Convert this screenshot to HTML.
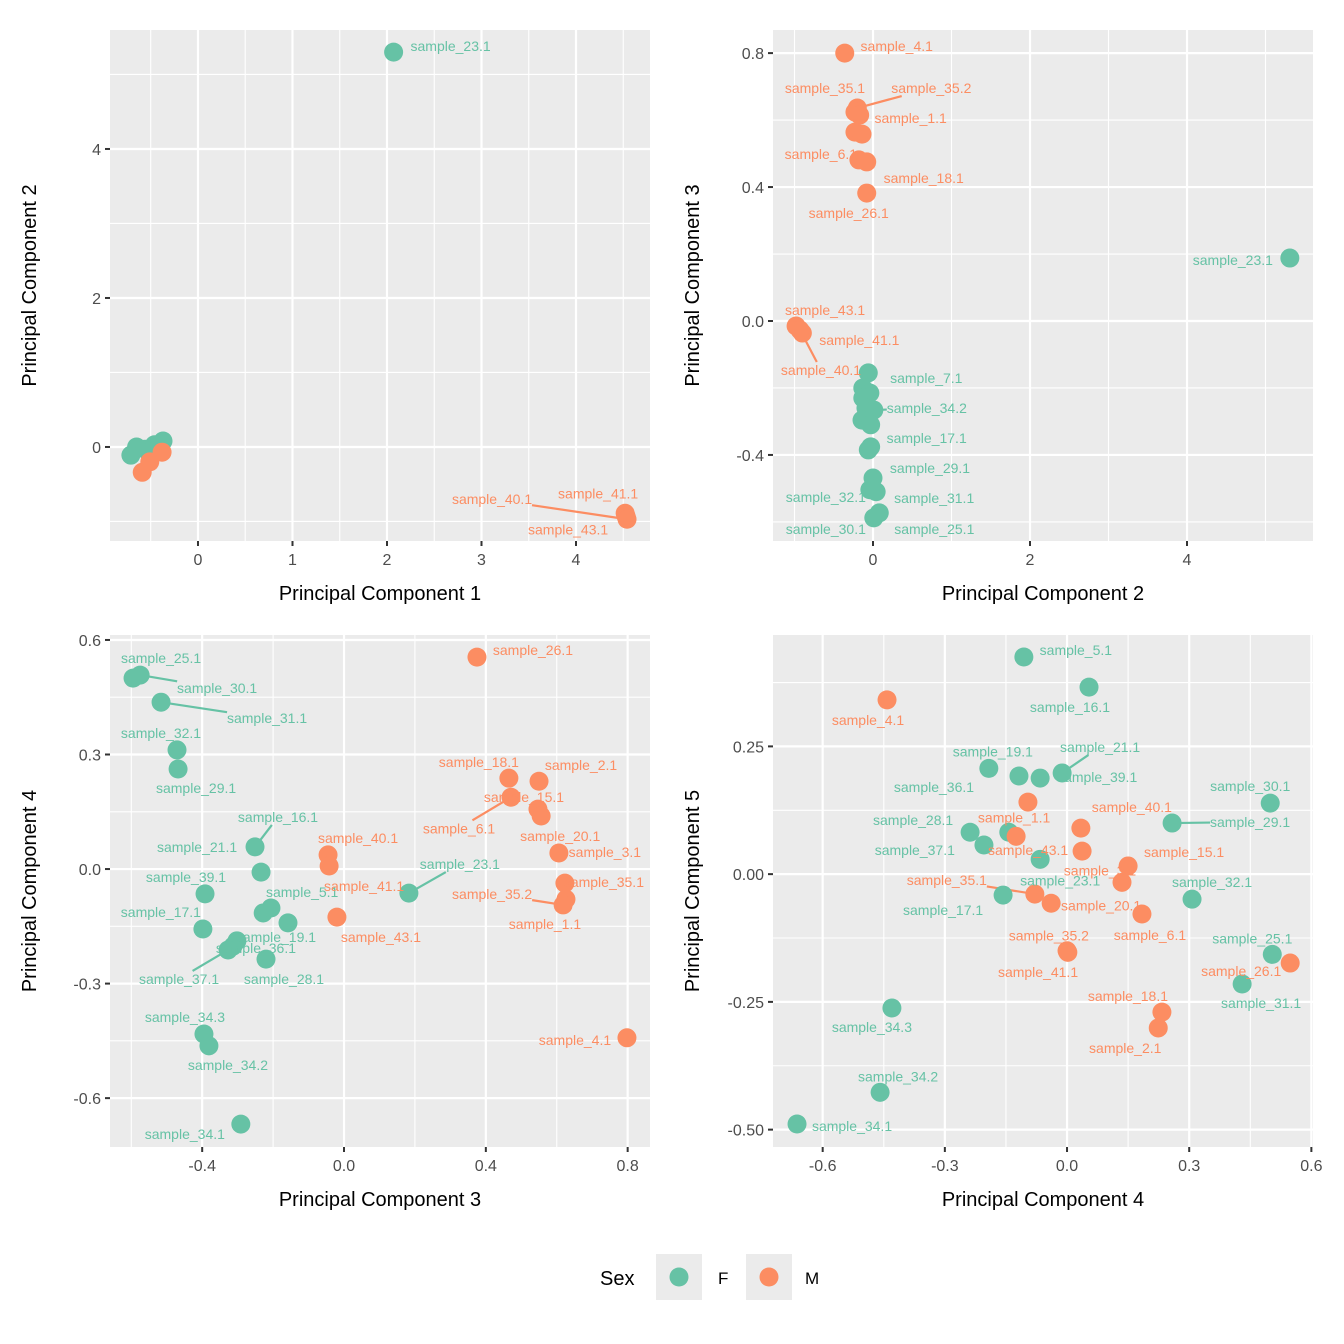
<!DOCTYPE html>
<html><head><meta charset="utf-8">
<style>
html,body{margin:0;padding:0;background:#fff;}
svg{display:block;font-family:"Liberation Sans",Arial,sans-serif;}
</style></head>
<body>
<svg id="chart" width="1344" height="1344" viewBox="0 0 1344 1344" xmlns="http://www.w3.org/2000/svg"></svg>
<script>
// ---------- data ----------
const p1x=[2.07,-0.71,-0.65,-0.56,-0.46,-0.37,-0.51,-0.59,-0.51,-0.38,4.52,4.53,4.54];
const p1y=[5.30,-0.11,0.00,-0.03,0.03,0.08,-0.07,-0.34,-0.20,-0.07,-0.89,-0.93,-0.97];
const p1sex=['F','F','F','F','F','F','F','M','M','M','M','M','M'];
const p1lab=['sample_23.1','','','','','','','','','','sample_41.1','sample_43.1','sample_40.1'];
const p1off=[[57,-6],0,0,0,0,0,0,0,0,0,[-27,-20],[-58,13],[-135,-20,1]];

const p2x=[-0.36,-0.20,-0.23,-0.17,-0.23,-0.14,-0.18,-0.08,-0.08,-0.98,-0.90,-0.93,5.31,-0.06,-0.13,-0.04,-0.13,-0.09,0.01,-0.14,-0.03,-0.06,-0.03,0.00,-0.04,0.04,0.08,0.01];
const p2y=[0.80,0.636,0.624,0.615,0.564,0.558,0.481,0.475,0.382,-0.015,-0.036,-0.027,0.188,-0.155,-0.20,-0.215,-0.23,-0.26,-0.266,-0.296,-0.31,-0.385,-0.376,-0.469,-0.504,-0.51,-0.573,-0.588];
const p2sex=['M','M','M','M','M','M','M','M','M','M','M','M','F','F','F','F','F','F','F','F','F','F','F','F','F','F','F','F'];
const p2lab=['sample_4.1','sample_35.2','sample_35.1','sample_1.1','','','sample_6.1','sample_18.1','sample_26.1','sample_43.1','sample_41.1','sample_40.1','sample_23.1','sample_7.1','','','','','sample_34.2','','sample_17.1','','','sample_29.1','sample_32.1','sample_31.1','sample_25.1','sample_30.1'];
const p2off=[[52,-7],[74,-20,1],[-30,-24],[51,3],0,0,[-38,-6],[57,16],[-18,20],[29,-16],[57,7],[21,40,1],[-57,2],[58,5],0,0,0,0,[53,-2,1],0,[56,13],0,0,[57,-10],[-44,7],[58,6],[55,16],[-48,11]];

const p3x=[-0.595,-0.575,-0.516,-0.471,-0.468,-0.251,-0.234,-0.392,-0.398,-0.228,-0.206,-0.158,-0.302,-0.313,-0.327,-0.22,-0.395,-0.381,-0.291,0.183,0.375,0.465,0.55,0.471,0.547,0.556,0.606,0.623,0.626,0.618,-0.045,-0.042,-0.02,0.798];
const p3y=[0.50,0.508,0.437,0.312,0.262,0.058,-0.008,-0.065,-0.157,-0.115,-0.102,-0.141,-0.188,-0.202,-0.212,-0.236,-0.432,-0.463,-0.668,-0.063,0.555,0.238,0.230,0.188,0.157,0.139,0.042,-0.037,-0.079,-0.094,0.037,0.008,-0.126,-0.442];
const p3sex=['F','F','F','F','F','F','F','F','F','F','F','F','F','F','F','F','F','F','F','F','M','M','M','M','M','M','M','M','M','M','M','M','M','M'];
const p3lab=['sample_25.1','sample_30.1','sample_31.1','sample_32.1','sample_29.1','sample_16.1','sample_21.1','sample_39.1','sample_17.1','sample_5.1','','sample_19.1','sample_36.1','','sample_37.1','sample_28.1','sample_34.3','sample_34.2','sample_34.1','sample_23.1','sample_26.1','sample_18.1','sample_2.1','sample_6.1','sample_15.1','sample_20.1','sample_3.1','sample_35.1','sample_1.1','sample_35.2','sample_40.1','sample_41.1','sample_43.1','sample_4.1'];
const p3off=[[28,-20],[77,13,1],[106,16,1],[-16,-17],[18,19],[23,-30,1],[-64,-25],[-19,-17],[-42,-17],[39,-21],0,[-12,14],[19,7],0,[-49,29,1],[18,20],[-19,-17],[19,19],[-56,10],[51,-29,1],[56,-7],[-30,-16],[42,-16],[-52,31,1],[-14,-12],[19,20],[46,-1],[39,-1],[-21,25],[-71,-11,1],[30,-17],[35,20],[44,20],[-52,2]];

const p4x=[-0.106,0.054,-0.192,-0.118,-0.066,-0.012,0.499,0.258,-0.238,-0.143,-0.204,-0.066,-0.157,0.307,0.504,0.43,-0.43,-0.459,-0.663,-0.442,-0.096,-0.125,0.034,0.037,0.150,0.135,-0.079,-0.039,0.184,0.002,0.0,0.548,0.233,0.224];
const p4y=[0.425,0.366,0.207,0.192,0.188,0.198,0.139,0.100,0.082,0.082,0.057,0.029,-0.041,-0.049,-0.157,-0.215,-0.262,-0.427,-0.489,0.341,0.141,0.074,0.090,0.045,0.016,-0.016,-0.039,-0.057,-0.078,-0.153,-0.150,-0.174,-0.27,-0.301];
const p4sex=['F','F','F','F','F','F','F','F','F','F','F','F','F','F','F','F','F','F','F','M','M','M','M','M','M','M','M','M','M','M','M','M','M','M'];
const p4lab=['sample_5.1','sample_16.1','sample_19.1','sample_36.1','sample_39.1','sample_21.1','sample_30.1','sample_29.1','sample_28.1','sample_37.1','','sample_23.1','sample_17.1','sample_32.1','sample_25.1','sample_31.1','sample_34.3','sample_34.2','sample_34.1','sample_4.1','','sample_1.1','sample_40.1','sample_43.1','sample_15.1','sample_3.1','sample_35.1','sample_20.1','sample_6.1','sample_35.2','sample_41.1','sample_26.1','sample_18.1','sample_2.1'];
const p4off=[[52,-7],[-19,20],[4,-17],[-85,11],[57,-1],[38,-26,1],[-20,-17],[78,-1,1],[-57,-12],[-94,18],0,[20,21],[-60,15],[20,-17],[-20,-16],[19,19],[-20,19],[18,-16],[55,2],[-19,20],0,[-2,-19],[51,-21],[-54,-1],[56,-14],[-22,-12],[-88,-14,1],[50,2],[8,21],[-19,-17],[-29,21],[-49,8],[-34,-16],[-33,20]];

const p1xt=[0,1,2,3,4], p1yt=[0,2,4];
const p2xt=[0,2,4], p2yt=[-0.4,0,0.4,0.8];
const p3xt=[-0.4,0,0.4,0.8], p3yt=[-0.6,-0.3,0,0.3,0.6];
const p4xt=[-0.6,-0.3,0,0.3,0.6], p4yt=[-0.5,-0.25,0,0.25];
const p1xl=['0','1','2','3','4'], p1yl=['0','2','4'];
const p2xl=['0','2','4'], p2yl=['-0.4','0.0','0.4','0.8'];
const p3xl=['-0.4','0.0','0.4','0.8'], p3yl=['-0.6','-0.3','0.0','0.3','0.6'];
const p4xl=['-0.6','-0.3','0.0','0.3','0.6'], p4yl=['-0.50','-0.25','0.00','0.25'];

// ---------- drawing ----------
const NS='http://www.w3.org/2000/svg';
const svg=document.getElementById('chart');
const COL={F:'#66C2A5',M:'#FC8D62'};
function mk(tag,attrs,parent){const e=document.createElementNS(NS,tag);for(const k in attrs)e.setAttribute(k,attrs[k]);(parent||svg).appendChild(e);return e;}

function panel(name,box,xd,yd,xs,ys,sex,lab,off,xt,yt,xl,yl,xtitle,ytitle){
  const [L,T,R,B]=box;
  const sx=v=>L+(v-xd[0])/(xd[1]-xd[0])*(R-L);
  const sy=v=>B-(v-yd[0])/(yd[1]-yd[0])*(B-T);
  const g=mk('g',{});
  
  
  const bg=mk('rect',{x:L,y:T,width:R-L,height:B-T,fill:'#EBEBEB'},g);
  
  
  const dx=xt[1]-xt[0], dy=yt[1]-yt[0];
  for(let v=xt[0]-dx/2; v<=xd[1]; v+=dx){ if(v<xd[0])continue; const x=sx(v);
    const l=mk('line',{x1:x,x2:x,y1:T,y2:B,stroke:'#fff','stroke-width':1.1},g);
     }
  for(let v=yt[0]-dy/2; v<=yd[1]; v+=dy){ if(v<yd[0])continue; const y=sy(v);
    const l=mk('line',{x1:L,x2:R,y1:y,y2:y,stroke:'#fff','stroke-width':1.1},g);
     }
  xt.forEach((v,i)=>{const x=sx(v);
    const l=mk('line',{x1:x,x2:x,y1:T,y2:B,stroke:'#fff','stroke-width':2.2},g);
     
    const t=mk('line',{x1:x,x2:x,y1:B,y2:B+5,stroke:'#333','stroke-width':2},g);
     
    const tx=mk('text',{x:x,y:B+24,'text-anchor':'middle','font-size':16,fill:'#4D4D4D'},g);
    tx.textContent=xl[i];
     });
  yt.forEach((v,i)=>{const y=sy(v);
    const l=mk('line',{x1:L,x2:R,y1:y,y2:y,stroke:'#fff','stroke-width':2.2},g);
     
    const t=mk('line',{x1:L-5,x2:L,y1:y,y2:y,stroke:'#333','stroke-width':2},g);
     
    const tx=mk('text',{x:L-9,y:y+6,'text-anchor':'end','font-size':16,fill:'#4D4D4D'},g);
    tx.textContent=yl[i];
     });
  xs.forEach((v,i)=>{const o=off[i]; if(!o||!o[2])return;
    const px=sx(v),py=sy(ys[i]);
    const k=Math.min(1,Math.max(Math.abs(o[0])>40?(Math.abs(o[0])-40)/Math.abs(o[0]):0,Math.abs(o[1])>8?(Math.abs(o[1])-8)/Math.abs(o[1]):0));
    const ln=mk('line',{x1:px,y1:py,x2:px+o[0]*k,y2:py+o[1]*k,stroke:COL[sex[i]],'stroke-width':2.2},g);
     });
  xs.forEach((v,i)=>{
    const c=mk('circle',{cx:sx(v),cy:sy(ys[i]),r:9.5,fill:COL[sex[i]]},g);
    
    });
  xs.forEach((v,i)=>{const o=off[i]; if(!o||!lab[i])return;
    const t=mk('text',{x:sx(v)+o[0],y:sy(ys[i])+o[1]+5,'text-anchor':'middle','font-size':14,fill:COL[sex[i]]},g);
    t.textContent=lab[i];
     });
  const xtt=mk('text',{x:(L+R)/2,y:B+59,'text-anchor':'middle','font-size':20,fill:'#000'},g);
  xtt.textContent=xtitle;
   
  const cx=L-74, cy=(T+B)/2;
  const ytt=mk('text',{x:cx,y:cy,'text-anchor':'middle','font-size':20,fill:'#000',transform:`rotate(-90 ${cx} ${cy})`},g);
  ytt.textContent=ytitle;
   
}
panel('panel-pc1-pc2',[110,30,650,541],[-0.931,4.783],[-1.262,5.597],p1x,p1y,p1sex,p1lab,p1off,p1xt,p1yt,p1xl,p1yl,'Principal Component 1','Principal Component 2');
panel('panel-pc2-pc3',[773,30,1313,541],[-1.274,5.605],[-0.657,0.869],p2x,p2y,p2sex,p2lab,p2off,p2xt,p2yt,p2xl,p2yl,'Principal Component 2','Principal Component 3');
panel('panel-pc3-pc4',[110,635,650,1147],[-0.660,0.863],[-0.728,0.613],p3x,p3y,p3sex,p3lab,p3off,p3xt,p3yt,p3xl,p3yl,'Principal Component 3','Principal Component 4');
panel('panel-pc4-pc5',[773,635,1313,1147],[-0.722,0.604],[-0.534,0.468],p4x,p4y,p4sex,p4lab,p4off,p4xt,p4yt,p4xl,p4yl,'Principal Component 4','Principal Component 5');

const lg=mk('g',{});
 
const lt=mk('text',{x:600,y:1285,'font-size':20,fill:'#000'},lg); lt.textContent='Sex';
 
[['F',656,718],['M',746,805]].forEach(([s,x,tx])=>{
  const e=mk('g',{},lg);
   
  mk('rect',{x:x,y:1254,width:46,height:46,fill:'#EBEBEB'},e);
  mk('circle',{cx:x+23,cy:1277,r:9.5,fill:COL[s]},e);
  const t=mk('text',{x:tx,y:1284,'font-size':17,fill:'#000'},e); t.textContent=s;
});
</script>
</body></html>
